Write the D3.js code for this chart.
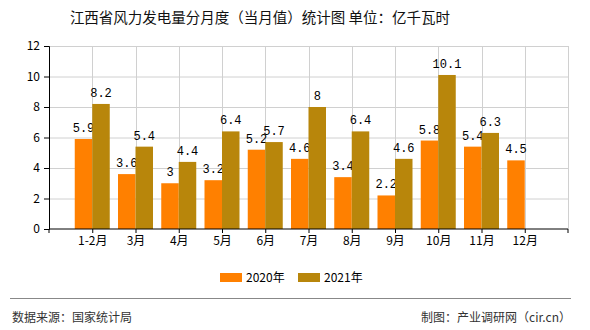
<!DOCTYPE html>
<html><head><meta charset="utf-8">
<script src="https://cdn.jsdelivr.net/npm/d3@7"></script>
<style>
body{margin:0;background:#fff;}
svg{display:block;}
text{font-family:"Noto Sans CJK SC","DejaVu Sans",sans-serif;}
</style></head>
<body>
<svg id="chart" width="590" height="330"></svg>
<script>
const categories = ["1-2月","3月","4月","5月","6月","7月","8月","9月","10月","11月","12月"];
const series2020 = [5.9,3.6,3,3.2,5.2,4.6,3.4,2.2,5.8,5.4,4.5];
const series2021 = [8.2,5.4,4.4,6.4,5.7,8,6.4,4.6,10.1,6.3,null];
const seriesNames = ["2020年","2021年"];
const seriesColors = ["#FF8000","#B8860B"];
const yTicks = [0,2,4,6,8,10,12];

const svg = d3.select("#chart");
const pLeft = 49, pRight = 568, pTop = 46, pBottom = 229;

const x = d3.scalePoint().domain(categories).range([pLeft, pRight]).padding(1);
const y = d3.scaleLinear().domain([0,12]).range([pBottom, pTop]);
const barW = 17.5;

// title
svg.append("text").attr("x",260).attr("y",23).attr("text-anchor","middle")
  .attr("font-size",14.5).attr("fill","#111")
  .text("江西省风力发电量分月度（当月值）统计图 单位：亿千瓦时");

// grid
const g = svg.append("g");
g.selectAll(".hg").data(yTicks.filter(d=>d>0)).enter().append("line")
  .attr("x1",pLeft).attr("x2",pRight).attr("y1",d=>y(d)+0.5).attr("y2",d=>y(d)+0.5)
  .attr("stroke","#d0d0d0").attr("stroke-width",1);
const vlines = categories.map(c=>x(c)).concat([pRight]);
g.selectAll(".vg").data(vlines).enter().append("line")
  .attr("x1",d=>Math.round(d)+0.5).attr("x2",d=>Math.round(d)+0.5).attr("y1",pTop).attr("y2",pBottom)
  .attr("stroke","#d0d0d0").attr("stroke-width",1);

// bars
const all = [series2020, series2021];
all.forEach((vals,si)=>{
  const data = categories.map((c,i)=>({c, v: vals[i]})).filter(d=>d.v!=null);
  svg.append("g").selectAll("rect").data(data).enter().append("rect")
    .attr("x",d=> si===0 ? x(d.c)-barW : x(d.c))
    .attr("y",d=>y(d.v)).attr("width",barW).attr("height",d=>pBottom-y(d.v))
    .attr("fill",seriesColors[si]);
  svg.append("g").selectAll("text").data(data).enter().append("text")
    .attr("x",d=> (si===0 ? x(d.c)-barW/2 : x(d.c)+barW/2))
    .attr("y",d=>y(d.v)-7).attr("text-anchor","middle")
    .attr("font-size",12).attr("fill","#000")
    .style("font-family","'Liberation Mono','DejaVu Sans Mono',monospace")
    .text(d=>d.v);
});

// y axis
const yAxis = d3.axisLeft(y).tickValues(yTicks).tickSize(5).tickPadding(4).tickFormat(d3.format("d"));
const ya = svg.append("g").attr("transform",`translate(${pLeft},0)`).call(yAxis);
ya.selectAll("text").attr("font-size",12).attr("fill","#000");
ya.select(".domain").attr("stroke","#000");
ya.selectAll(".tick line").attr("stroke","#000");

// x axis
const xAxis = d3.axisBottom(x).tickSize(4).tickPadding(3);
const xa = svg.append("g").attr("transform",`translate(0,${pBottom})`).call(xAxis);
xa.selectAll("text").attr("font-size",12).attr("fill","#000");
xa.select(".domain").attr("stroke","#000").attr("d",`M${pLeft},4V0H${pRight}V4`);
xa.selectAll(".tick line").attr("stroke","#000");

// legend
const legX = [220, 298];
seriesNames.forEach((n,i)=>{
  svg.append("rect").attr("x",legX[i]).attr("y",273).attr("width",22).attr("height",9).attr("fill",seriesColors[i]);
  svg.append("text").attr("x",legX[i]+26).attr("y",282).attr("font-size",12).attr("fill","#000").text(n);
});

// footer
svg.append("line").attr("x1",10).attr("x2",571).attr("y1",298.5).attr("y2",298.5).attr("stroke","#888").attr("stroke-width",1);
svg.append("text").attr("x",12).attr("y",322).attr("font-size",12).attr("fill","#333").text("数据来源：国家统计局");
svg.append("text").attr("x",571).attr("y",322).attr("text-anchor","end").attr("font-size",12).attr("fill","#333").text("制图：产业调研网（cir.cn）");
</script>
</body></html>
